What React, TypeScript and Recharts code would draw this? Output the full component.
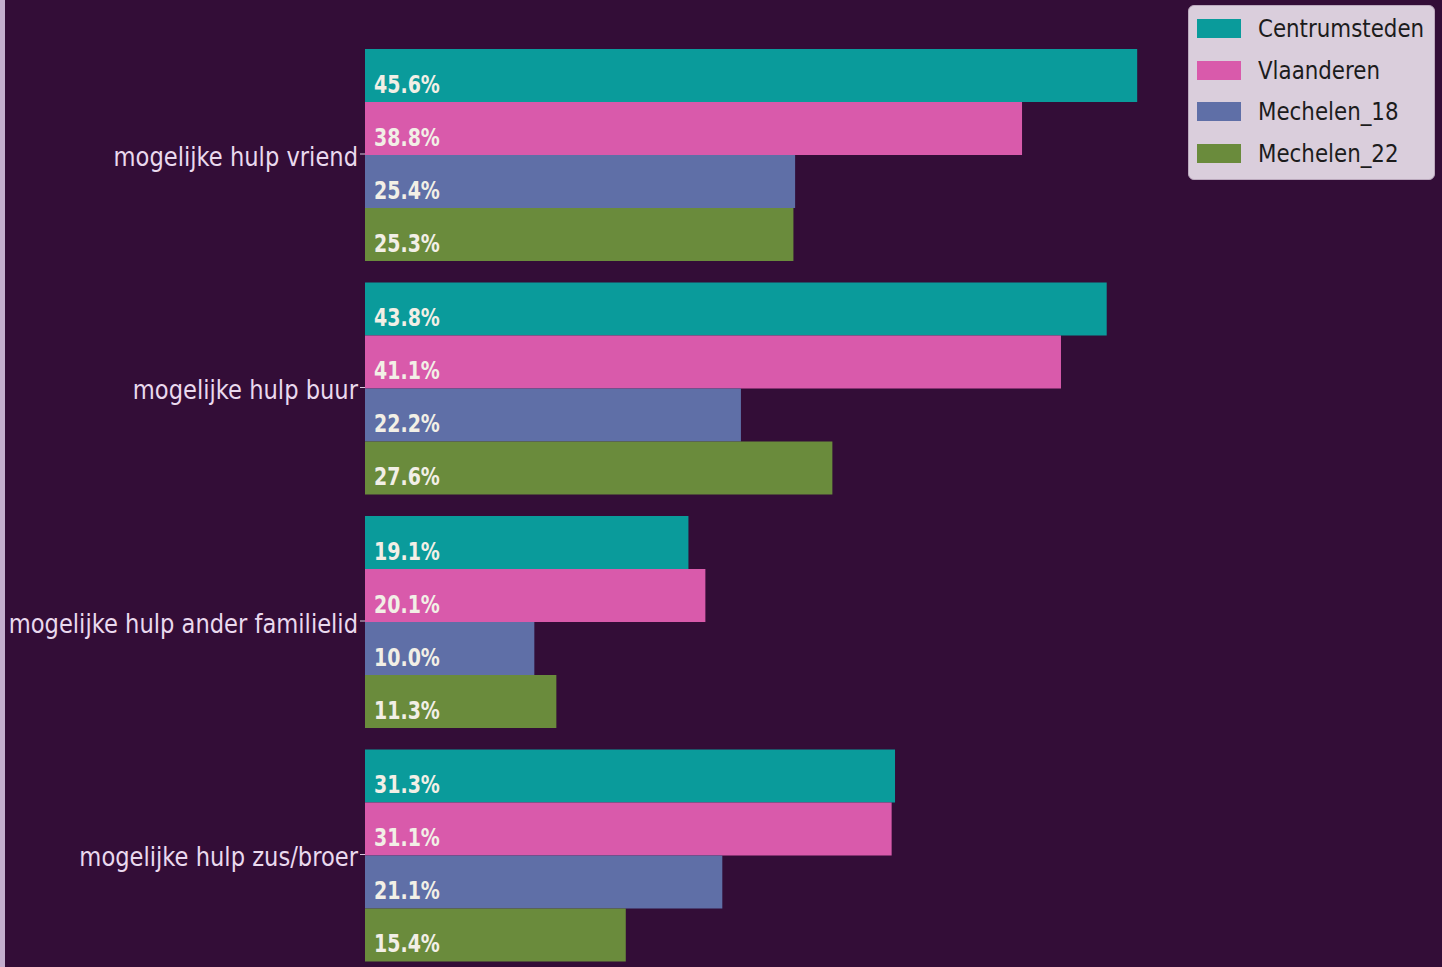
import { BarChart, Bar, XAxis, YAxis, Legend, LabelList } from "recharts"

// ── Data ──────────────────────────────────────────────────────────────────────
const categories = [
  "mogelijke hulp vriend",
  "mogelijke hulp buur",
  "mogelijke hulp ander familielid",
  "mogelijke hulp zus/broer",
]
const centrumsteden = [45.6, 43.8, 19.1, 31.3]
const vlaanderen = [38.8, 41.1, 20.1, 31.1]
const mechelen18 = [25.4, 22.2, 10.0, 21.1]
const mechelen22 = [25.3, 27.6, 11.3, 15.4]

const SERIES = [
  { key: "Centrumsteden", values: centrumsteden, color: "#0a9b9b" },
  { key: "Vlaanderen", values: vlaanderen, color: "#d95aab" },
  { key: "Mechelen_18", values: mechelen18, color: "#5f6fa7" },
  { key: "Mechelen_22", values: mechelen22, color: "#6a8b3c" },
]

const data = categories.map((name, i) => {
  const row: Record<string, string | number> = { name }
  SERIES.forEach((s) => (row[s.key] = s.values[i]))
  return row
})

const BG = "#330d37"
const FONT = "'DejaVu Sans', sans-serif"

// ── Custom pieces ─────────────────────────────────────────────────────────────
function CategoryTick({ x, y, payload }: any) {
  return (
    <g transform={`translate(${x},${y}) scale(0.87,1)`}>
      <text x={0} y={0} dy="0.45em" textAnchor="end" fontSize={26} fontFamily={FONT} fill="#ead9ee">
        {payload.value}
      </text>
    </g>
  )
}

function ValueLabel({ x, y, height, value }: any) {
  return (
    <g transform={`translate(${x + 9},${y + height / 2 + 17}) scale(0.76,1)`}>
      <text x={0} y={0} fontSize={25} fontWeight="bold" fontFamily={FONT} fill="#f2efe6">
        {`${Number(value).toFixed(1)}%`}
      </text>
    </g>
  )
}

function LegendBox() {
  return (
    <div
      style={{
        width: 247,
        height: 175,
        boxSizing: "border-box",
        background: "#dacedc",
        border: "1px solid #bba9bd",
        borderRadius: 6,
        paddingTop: 2,
        paddingLeft: 8,
      }}
    >
      {SERIES.map((s) => (
        <div key={s.key} style={{ display: "flex", alignItems: "center", height: 41.5 }}>
          <div style={{ width: 44, height: 19, background: s.color, flex: "none" }} />
          <span
            style={{
              marginLeft: 17,
              fontFamily: FONT,
              fontSize: 25,
              lineHeight: 1,
              color: "#1c1c1c",
              display: "inline-block",
              transform: "scaleX(0.855)",
              transformOrigin: "left center",
              whiteSpace: "nowrap",
            }}
          >
            {s.key}
          </span>
        </div>
      ))}
    </div>
  )
}

// ── Chart ─────────────────────────────────────────────────────────────────────
export default function App() {
  return (
    <div style={{ position: "relative", width: 1442, height: 967, overflow: "hidden", background: BG }}>
      <style>{"body{margin:0}"}</style>
      <BarChart
        width={1442}
        height={980}
        data={data}
        layout="vertical"
        margin={{ top: 37.25, right: 0, bottom: 8.75, left: 0 }}
        barCategoryGap={11.75}
        barGap={0}
        style={{ background: BG }}
      >
        <XAxis type="number" domain={[0, 63.6]} hide />
        <YAxis
          type="category"
          dataKey="name"
          width={365}
          tick={<CategoryTick />}
          tickSize={5}
          tickLine={{ stroke: "#d8c8dc" }}
          axisLine={false}
          interval={0}
        />
        {/* vertical + center + middle keeps the legend from shrinking the plot area */}
        <Legend
          layout="vertical"
          verticalAlign="middle"
          align="center"
          content={() => <LegendBox />}
          wrapperStyle={{ position: "absolute", top: 5, left: 1188, width: 247, height: 175 }}
        />
        {SERIES.map((s) => (
          <Bar key={s.key} dataKey={s.key} fill={s.color} isAnimationActive={false}>
            <LabelList dataKey={s.key} content={<ValueLabel />} />
          </Bar>
        ))}
      </BarChart>
      <div style={{ position: "absolute", left: 0, top: 0, width: 5, height: 967, background: "#c3aecd" }} />
    </div>
  )
}
